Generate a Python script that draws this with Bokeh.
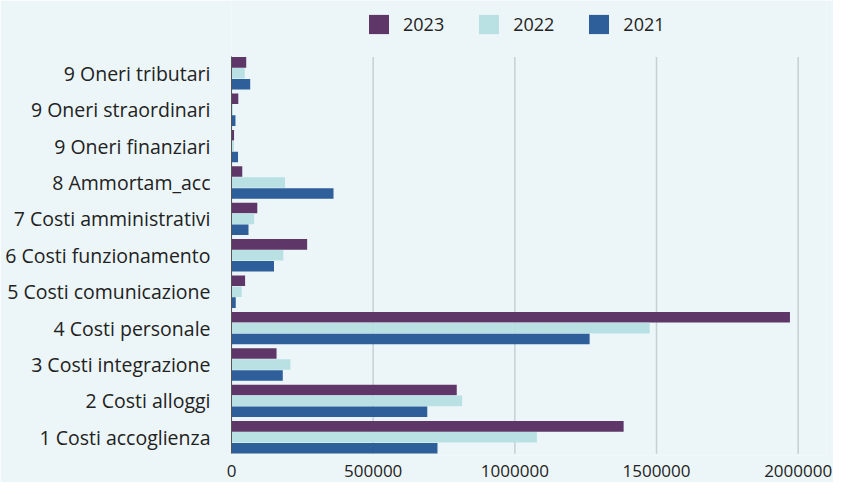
from bokeh.plotting import figure
from bokeh.models import (ColumnDataSource, Range1d, FixedTicker,
                          BasicTickFormatter, Legend, LegendItem)
from bokeh.transform import dodge
from bokeh.embed import file_html
from bokeh.resources import INLINE

categories = ["1 Costi accoglienza", "2 Costi alloggi", "3 Costi integrazione",
              "4 Costi personale", "5 Costi comunicazione", "6 Costi funzionamento",
              "7 Costi amministrativi", "8 Ammortam_acc", "9 Oneri finanziari",
              "9 Oneri straordinari", "9 Oneri tributari"]
v2023 = [1384000, 795000, 159000, 1971000, 48000, 267000, 91000, 38000, 9000, 24000, 52000]
v2022 = [1078000, 814000, 208000, 1476000, 36000, 183000, 80000, 189000, 9000, 5000, 47000]
v2021 = [727000, 691000, 181000, 1264000, 15000, 150000, 60000, 360000, 23000, 14000, 66000]
x_ticks = [0, 500000, 1000000, 1500000, 2000000]

BG = "#ecf6f8"
C23, C22, C21 = "#5e3768", "#b9e1e4", "#2e5f9a"
FONT = "Open Sans"

n = len(categories)
pos = list(range(n))
source = ColumnDataSource(dict(pos=pos, cat=categories, v2023=v2023, v2022=v2022, v2021=v2021))

p = figure(width=833, height=482,
           y_range=Range1d(-0.5, 12.0), x_range=Range1d(0, 2100000),
           output_backend="svg", toolbar_location=None,
           min_border_left=231, min_border_right=7, min_border_top=0,
           min_border_bottom=27)
p.background_fill_color = BG
p.border_fill_color = BG
p.outline_line_color = None

# vertical grid lines limited to the bar area
p.xgrid.grid_line_color = None
p.ygrid.grid_line_color = None
p.segment(x0=x_ticks, x1=x_ticks, y0=[-0.45] * len(x_ticks), y1=[n - 0.55] * len(x_ticks),
          line_color="#c6cfd2", line_width=1.5)

r23 = p.hbar(y=dodge("pos", 0.3), right="v2023", height=0.29,
             source=source, fill_color=C23, line_color=None)
r22 = p.hbar(y=dodge("pos", 0.0), right="v2022", height=0.29,
             source=source, fill_color=C22, line_color=None)
r21 = p.hbar(y=dodge("pos", -0.3), right="v2021", height=0.29,
             source=source, fill_color=C21, line_color=None)

p.xaxis.ticker = FixedTicker(ticks=x_ticks)
p.xaxis.formatter = BasicTickFormatter(use_scientific=False)
p.xaxis.axis_line_color = None
p.xaxis.major_tick_line_color = None
p.xaxis.minor_tick_line_color = None
p.xaxis.major_label_standoff = 3
p.xaxis.major_label_text_font = FONT
p.xaxis.major_label_text_font_size = "17px"
p.xaxis.major_label_text_color = "#222222"

p.yaxis.ticker = FixedTicker(ticks=pos)
p.yaxis.major_label_overrides = {i: c for i, c in zip(pos, categories)}
p.yaxis.bounds = (-0.45, n - 0.55)
p.yaxis.axis_line_color = "#555555"
p.yaxis.axis_line_width = 1
p.yaxis.major_tick_line_color = None
p.yaxis.minor_tick_line_color = None
p.yaxis.major_label_standoff = 15
p.yaxis.major_label_text_font = FONT
p.yaxis.major_label_text_font_size = "19.5px"
p.yaxis.major_label_text_color = "#222222"

legend = Legend(items=[LegendItem(label="2023", renderers=[r23]),
                       LegendItem(label="2022", renderers=[r22]),
                       LegendItem(label="2021", renderers=[r21])],
                orientation="horizontal", location=(135, 419),
                glyph_width=25, glyph_height=24, label_standoff=12, spacing=32,
                padding=0, margin=0, border_line_color=None,
                background_fill_alpha=0, label_text_font=FONT,
                label_text_font_size="18px", label_text_color="#222222")
p.add_layout(legend, "center")

open("out.html", "w").write(file_html(p, INLINE))
